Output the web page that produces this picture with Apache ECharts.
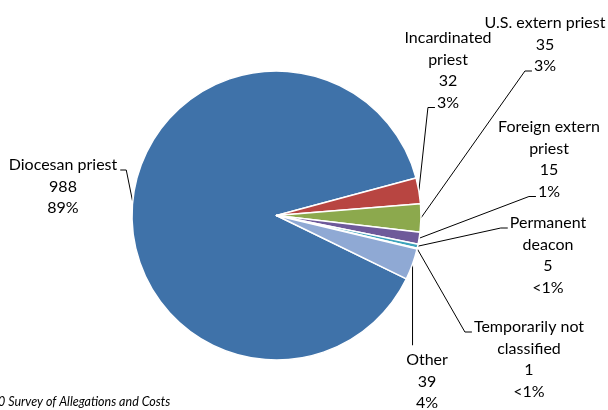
<!DOCTYPE html>
<html><head><meta charset="utf-8">
<script src="https://cdn.jsdelivr.net/npm/echarts@6/dist/echarts.min.js"></script>
<style>html,body{margin:0;padding:0;background:#fff}#c{width:608px;height:410px}</style>
</head><body><div id="c"></div>
<script>
// ---- data ----
const categories = ['Diocesan priest','Incardinated priest','U.S. extern priest','Foreign extern priest','Permanent deacon','Temporarily not classified','Other'];
const labelNames = ['Diocesan priest','Incardinated\npriest','U.S. extern priest','Foreign extern\npriest','Permanent\ndeacon','Temporarily not\nclassified','Other'];
const counts = [988, 32, 35, 15, 5, 1, 39];
const percentLabels = ['89%','3%','3%','1%','<1%','<1%','4%'];
const sourceNote = '0 Survey of Allegations and Costs';

// ---- style / layout ----
const sliceColors = ['#3F72A9','#B84541','#8CA94D','#6E5A9A','#3DA3BB','#F39240','#8FA9D4'];
const FONT_FAMILY = 'Lato, "Liberation Sans", sans-serif';
const FONT_SIZE = 16;
const LH = 21.5;
// label block: [center x, center y of first line]
const labelPos = [[63,165],[448,38],[545,23],[549,127],[548,223],[529,327],[427,360]];
// which line of the label the leader attaches to, and on which side
const attach = [
  {line:0, side:'right'}, {line:3, side:'left'}, {line:2, side:'left'},
  {line:3, side:'left'}, {line:0, side:'left'}, {line:0, side:'left'}, {line:0, side:'top'}
];

const measureCtx = document.createElement('canvas').getContext('2d');
measureCtx.font = FONT_SIZE + 'px ' + FONT_FAMILY;
function textW(s){ return measureCtx.measureText(s).width; }
function linesOf(i){ return (labelNames[i] + '\n' + counts[i] + '\n' + percentLabels[i]).split('\n'); }

const chart = echarts.init(document.getElementById('c'), null, {renderer:'canvas'});
chart.setOption({
  animation: false,
  backgroundColor: '#fff',
  graphic: [{
    type: 'text', x: -2, y: 402,
    style: { text: sourceNote, fontSize: 12.5, fontStyle: 'italic', fontFamily: FONT_FAMILY, fill: '#000', verticalAlign: 'middle' }
  }],
  series: [{
    type: 'pie',
    center: [276.5, 215.5],
    radius: [0, 144.5],
    startAngle: 334,
    clockwise: true,
    avoidLabelOverlap: false,
    minShowLabelAngle: 0,
    itemStyle: { borderColor: '#fff', borderWidth: 1.5 },
    label: {
      show: true, position: 'outside', color: '#000',
      fontFamily: FONT_FAMILY, fontSize: FONT_SIZE, lineHeight: LH, align: 'center',
      formatter: p => linesOf(p.dataIndex).join('\n')
    },
    labelLine: { show: true, smooth: false, length: 10, length2: 10, lineStyle: { color: '#000', width: 1 } },
    labelLayout: function(params){
      const i = params.dataIndex;
      const cx = labelPos[i][0], cy0 = labelPos[i][1];
      const lines = linesOf(i);
      const a = attach[i];
      const anchor = params.labelLinePoints ? params.labelLinePoints[0] : [cx, cy0];
      const ly = cy0 + a.line * LH + 5;
      let pts;
      if (a.side === 'left') {
        const x = cx - textW(lines[a.line]) / 2 - 2;
        pts = [anchor, [x - 7, ly], [x, ly]];
      } else if (a.side === 'right') {
        const x = cx + textW(lines[a.line]) / 2 + 3;
        pts = [anchor, [x + 6, ly], [x, ly]];
      } else {
        const ty = cy0 - LH / 2 - 4;
        pts = [anchor, [anchor[0], ty], [anchor[0], ty]];
      }
      return { x: cx, y: cy0 - LH / 2, align: 'center', verticalAlign: 'top', labelLinePoints: pts };
    },
    data: categories.map((c, i) => ({ name: c, value: counts[i], itemStyle: { color: sliceColors[i] } }))
  }]
});
</script></body></html>
